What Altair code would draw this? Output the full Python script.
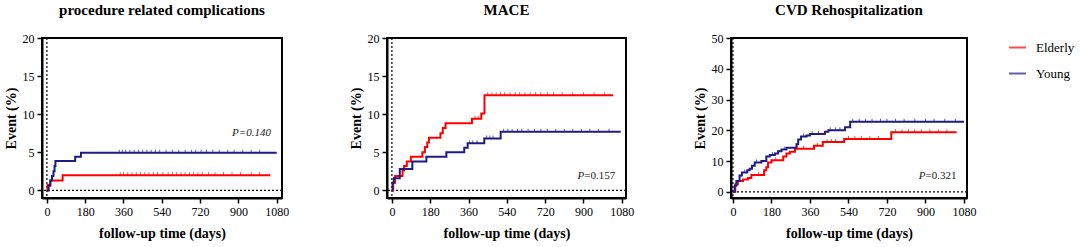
import altair as alt
import pandas as pd

groups = ["Elderly", "Young"]
colors = ["#ff0000", "#1c1c84"]

# Panel 1: procedure related complications
p1_eld_t = [0, 3, 16, 74, 1050]
p1_eld_v = [0, 0.7, 1.3, 2.0, 2.0]
p1_yng_t = [0, 8, 16, 24, 31, 36, 40, 133, 160, 1080]
p1_yng_v = [0, 0.6, 1.3, 1.9, 2.5, 3.2, 3.85, 4.4, 4.95, 4.95]
p1_eld_c = [345, 360, 380, 400, 420, 440, 460, 480, 500, 520, 545, 570, 590, 610, 630, 650, 670, 690, 710, 730, 760, 790, 830, 870, 910, 960, 1000]
p1_yng_c = [340, 355, 370, 390, 410, 430, 450, 470, 490, 510, 530, 560, 590, 620, 650, 680, 700, 725, 750, 780, 810, 850, 880, 920, 960, 1000]

# Panel 2: MACE
p2_eld_t = [0, 6, 15, 50, 57, 70, 89, 143, 155, 166, 174, 228, 239, 252, 376, 420, 435, 1040]
p2_eld_v = [0, 1.0, 1.9, 2.6, 3.2, 3.8, 4.4, 5.0, 5.7, 6.3, 6.9, 7.5, 8.2, 8.8, 9.4, 10.1, 12.5, 12.5]
p2_yng_t = [0, 3, 9, 37, 96, 162, 256, 340, 356, 434, 511, 1075]
p2_yng_v = [0, 1.0, 1.6, 2.8, 3.8, 4.4, 5.0, 5.6, 6.2, 6.8, 7.7, 7.7]
p2_eld_c = [390, 405, 450, 470, 490, 510, 530, 555, 580, 600, 625, 650, 675, 700, 730, 760, 800, 850, 900, 950, 1000]
p2_yng_c = [365, 380, 400, 445, 460, 475, 525, 545, 565, 590, 610, 640, 670, 700, 730, 770, 810, 850, 890, 930, 970, 1020]

# Panel 3: CVD Rehospitalization
p3_eld_t = [0, 11, 23, 47, 70, 86, 146, 156, 164, 180, 235, 250, 266, 290, 379, 420, 520, 740, 1046]
p3_eld_v = [0, 2.5, 3.5, 4.0, 4.5, 5.5, 7.0, 8.0, 9.5, 10.3, 11.5, 12.5, 13.0, 14.0, 15.0, 16.2, 17.2, 19.4, 19.4]
p3_yng_t = [0, 8, 16, 31, 42, 67, 78, 89, 102, 133, 156, 172, 196, 211, 227, 250, 297, 305, 318, 344, 360, 430, 446, 524, 548, 1080]
p3_yng_v = [0, 2.0, 3.5, 5.3, 6.3, 7.0, 7.5, 8.5, 9.5, 10.0, 11.5, 12.0, 12.5, 13.2, 13.8, 14.3, 15.5, 17.0, 18.0, 18.3, 18.8, 19.5, 20.0, 21.0, 22.8, 22.8]
p3_eld_c = [120, 200, 300, 330, 395, 440, 460, 480, 540, 570, 600, 640, 680, 760, 790, 820, 850, 880, 920, 960, 1000]
p3_yng_c = [55, 110, 185, 240, 330, 370, 400, 455, 480, 500, 560, 590, 620, 650, 690, 720, 760, 800, 850, 900, 940, 990, 1040]

x_ticks = [0, 180, 360, 540, 720, 900, 1080]

SERIF = "Liberation Serif"


def step_value(ts, vs, t):
    v = vs[0]
    for ti, vi in zip(ts, vs):
        if ti <= t:
            v = vi
    return v


def panel(title, eld_t, eld_v, yng_t, yng_v, eld_c, yng_c, xdom, ydom, yticks,
          width, ptxt, italic_all):
    curves = pd.DataFrame(
        [{"t": t, "v": v, "g": "Elderly"} for t, v in zip(eld_t, eld_v)]
        + [{"t": t, "v": v, "g": "Young"} for t, v in zip(yng_t, yng_v)]
    )
    cens = pd.DataFrame(
        [{"t": t, "v": step_value(eld_t, eld_v, t), "g": "Elderly"} for t in eld_c]
        + [{"t": t, "v": step_value(yng_t, yng_v, t), "g": "Young"} for t in yng_c]
    )
    x = alt.X("t:Q", scale=alt.Scale(domain=xdom, nice=False, zero=False),
              axis=alt.Axis(values=x_ticks, format="d", titlePadding=9,
                            labelOverlap=False, labelFlush=False,
                            title="follow-up time (days)"))
    y = alt.Y("v:Q", scale=alt.Scale(domain=ydom, nice=False, zero=False),
              axis=alt.Axis(values=yticks, format="d", labelOverlap=False,
                            labelFlush=False, title="Event (%)"))
    color = alt.Color("g:N", scale=alt.Scale(domain=groups, range=colors),
                      legend=alt.Legend(title=None))
    lines = alt.Chart(curves).mark_line(interpolate="step-after", strokeWidth=2, clip=True).encode(
        x=x, y=y, color=color, detail="g:N")
    ticks = alt.Chart(cens).mark_tick(orient="vertical", size=3, thickness=1, yOffset=-1.5).encode(
        x=x, y=y, color=color)
    vrule = alt.Chart(pd.DataFrame({"t": [0]})).mark_rule(
        color="black", strokeDash=[2, 2], strokeWidth=1.2).encode(x=x)
    hrule = alt.Chart(pd.DataFrame({"v": [0]})).mark_rule(
        color="black", strokeDash=[2, 2], strokeWidth=1.2).encode(y=y)
    layers = [vrule, hrule, lines, ticks]
    px, py, ptxt_s = ptxt
    if italic_all:
        layers.append(alt.Chart(pd.DataFrame({"t": [px], "v": [py], "s": [ptxt_s]})).mark_text(
            font=SERIF, fontSize=11, fontStyle="italic", align="right", color="#222").encode(
            x=x, y=y, text="s:N"))
    else:
        layers.append(alt.Chart(pd.DataFrame({"t": [px], "v": [py], "s": ["P"]})).mark_text(
            font=SERIF, fontSize=11, fontStyle="italic", align="right", color="#222").encode(
            x=x, y=y, text="s:N"))
        layers.append(alt.Chart(pd.DataFrame({"t": [px], "v": [py], "s": [ptxt_s]})).mark_text(
            font=SERIF, fontSize=11, align="left", color="#222").encode(
            x=x, y=y, text="s:N"))
    return alt.layer(*layers).properties(
        width=width, height=160,
        title=alt.TitleParams(title, font=SERIF, fontSize=15, fontWeight="bold", offset=14))


c1 = panel("procedure related complications", p1_eld_t, p1_eld_v, p1_yng_t, p1_yng_v,
           p1_eld_c, p1_yng_c, [-23, 1105], [-1, 20], [0, 5, 10, 15, 20], 240,
           (1053, 7.5, "P=0.140"), True)
c2 = panel("MACE", p2_eld_t, p2_eld_v, p2_yng_t, p2_yng_v,
           p2_eld_c, p2_yng_c, [-23, 1100], [-1, 20], [0, 5, 10, 15, 20], 239,
           (904, 1.9, "=0.157"), False)
c3 = panel("CVD Rehospitalization", p3_eld_t, p3_eld_v, p3_yng_t, p3_yng_v,
           p3_eld_c, p3_yng_c, [-9, 1094], [-2, 50], [0, 10, 20, 30, 40, 50], 236,
           (900, 5.2, "=0.321"), False)

chart = alt.hconcat(c1, c2, c3, spacing=105, bounds="flush").properties(
    padding={"left": 3, "top": 2, "right": 5, "bottom": 5}
).configure_view(stroke="black", strokeWidth=2).configure_axis(
    grid=False, domainColor="black", domainWidth=2, tickColor="black", tickWidth=1.5,
    tickSize=5, labelFont=SERIF, labelFontSize=12, labelColor="black", labelPadding=3,
    labelOverlap=False, labelFlush=False,
    titleFont=SERIF, titleFontSize=14, titleFontWeight="bold", titleColor="black",
    titlePadding=4
).configure_legend(
    orient="right", offset=30, padding=0, labelFont=SERIF, labelFontSize=13,
    labelColor="black", symbolType="stroke", symbolStrokeWidth=2, symbolSize=289,
    labelOffset=9, rowPadding=9
)

chart.save("out.html", embed_options={"renderer": "svg", "actions": False})
